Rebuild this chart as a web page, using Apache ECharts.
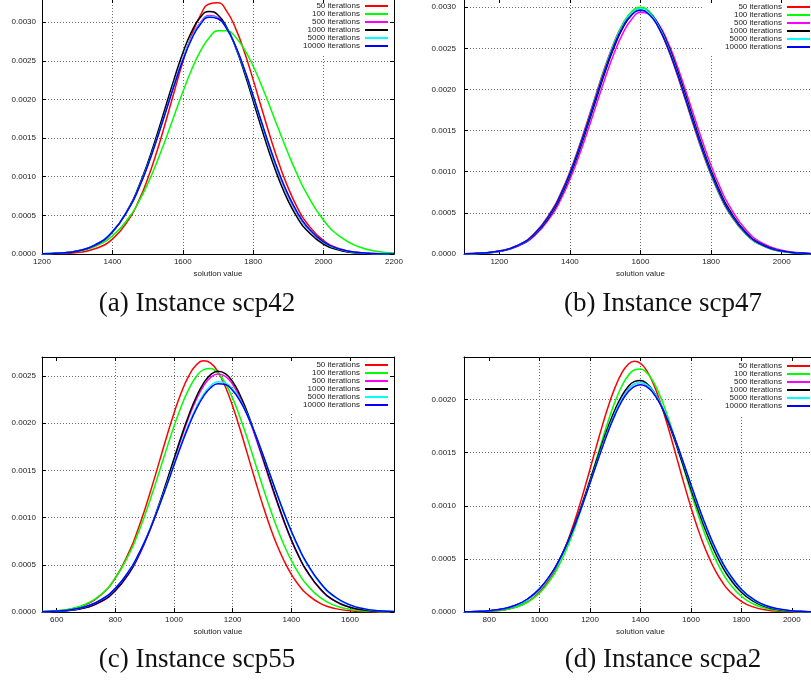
<!DOCTYPE html>
<html>
<head>
<meta charset="utf-8">
<script src="https://cdn.jsdelivr.net/npm/echarts@6/dist/echarts.min.js"></script>
<style>
html,body{margin:0;padding:0;background:#fff;}
#chart{width:811px;height:682px;}
</style>
</head>
<body>
<div id="chart"></div>
<script>
// ---------------- data ----------------
const seriesNames = ['50 iterations', '100 iterations', '500 iterations', '1000 iterations', '5000 iterations', '10000 iterations'];
const captions = ['(a) Instance scp42', '(b) Instance scp47', '(c) Instance scp55', '(d) Instance scpa2'];
const xAxisTitle = 'solution value';

const xTicksA = [1200, 1400, 1600, 1800, 2000, 2200];
const xTicksB = [1200, 1400, 1600, 1800, 2000];
const xTicksC = [600, 800, 1000, 1200, 1400, 1600];
const xTicksD = [800, 1000, 1200, 1400, 1600, 1800, 2000];

// (a) scp42
const xA = [1200,1250,1300,1350,1400,1450,1475,1500,1525,1550,1575,1600,1625,1650,1675,1700,1725,1750,1775,1800,1825,1850,1875,1900,1925,1950,2000,2050,2100,2150,2200];
const a50    = [0.0000010,0.0000049,0.0000197,0.0000671,0.000193,0.000471,0.000690,0.000970,0.001306,0.001688,0.002091,0.002483,0.002829,0.003089,0.003235,0.003250,0.003140,0.002920,0.002615,0.002253,0.001869,0.001492,0.001147,0.000849,0.000604,0.000414,0.000174,0.0000625,0.0000193,0.0000051,0.0000012];
const a100   = [0.0000033,0.0000116,0.0000359,0.0000976,0.000234,0.000491,0.000678,0.000906,0.001173,0.001470,0.001784,0.002096,0.002384,0.002625,0.002799,0.002889,0.002889,0.002806,0.002649,0.002430,0.002167,0.001877,0.001581,0.001294,0.001030,0.000796,0.000437,0.000214,0.0000933,0.0000363,0.0000126];
const a500   = [0.0000029,0.0000113,0.0000386,0.000113,0.000283,0.000613,0.000853,0.001142,0.001473,0.001831,0.002191,0.002525,0.002803,0.002996,0.003085,0.003060,0.002923,0.002689,0.002383,0.002034,0.001672,0.001323,0.001009,0.000741,0.000524,0.000357,0.000148,0.0000528,0.0000162,0.0000043,0.0000010];
const a1000  = [0.0000026,0.0000107,0.0000375,0.000112,0.000286,0.000627,0.000875,0.001176,0.001520,0.001890,0.002260,0.002600,0.002878,0.003065,0.003139,0.003093,0.002932,0.002674,0.002346,0.001980,0.001607,0.001255,0.000943,0.000681,0.000474,0.000317,0.000126,0.0000430,0.0000126,0.0000031,0.0000007];
const a5000  = [0.0000031,0.0000120,0.0000403,0.000116,0.000288,0.000618,0.000858,0.001144,0.001477,0.001829,0.002189,0.002518,0.002796,0.002985,0.003075,0.003050,0.002915,0.002682,0.002380,0.002033,0.001674,0.001328,0.001015,0.000748,0.000530,0.000363,0.000152,0.0000546,0.0000169,0.0000046,0.0000011];
const a10000 = [0.0000031,0.0000120,0.0000400,0.000115,0.000287,0.000616,0.000853,0.001140,0.001467,0.001819,0.002174,0.002504,0.002779,0.002973,0.003064,0.003044,0.002914,0.002688,0.002390,0.002048,0.001691,0.001345,0.001032,0.000762,0.000543,0.000372,0.000157,0.0000571,0.0000179,0.0000048,0.0000011];

// (b) scp47
const xB = [1100,1150,1200,1250,1300,1350,1375,1400,1425,1450,1475,1500,1525,1550,1575,1600,1625,1650,1675,1700,1725,1750,1775,1800,1825,1850,1900,1950,2000,2050,2100];
const b50    = [0.0000030,0.0000111,0.0000362,0.000102,0.000251,0.000538,0.000746,0.001000,0.001295,0.001619,0.001955,0.002281,0.002569,0.002795,0.002936,0.002980,0.002920,0.002764,0.002526,0.002231,0.001902,0.001566,0.001246,0.000957,0.000710,0.000508,0.000235,0.0000946,0.0000331,0.0000101,0.0000027];
const b100   = [0.0000026,0.0000098,0.0000326,0.0000941,0.000236,0.000513,0.000717,0.000968,0.001262,0.001588,0.001929,0.002261,0.002559,0.002795,0.002948,0.003000,0.002948,0.002795,0.002559,0.002261,0.001929,0.001588,0.001262,0.000968,0.000717,0.000513,0.000236,0.0000941,0.0000326,0.0000098,0.0000026];
const b500   = [0.0000026,0.0000097,0.0000316,0.0000897,0.000222,0.000480,0.000670,0.000905,0.001181,0.001490,0.001816,0.002140,0.002437,0.002683,0.002854,0.002935,0.002917,0.002802,0.002602,0.002335,0.002025,0.001698,0.001376,0.001077,0.000816,0.000597,0.000288,0.000122,0.0000448,0.0000144,0.0000040];
const b1000  = [0.0000027,0.0000102,0.0000334,0.0000949,0.000235,0.000506,0.000706,0.000951,0.001237,0.001555,0.001888,0.002215,0.002511,0.002748,0.002906,0.002969,0.002931,0.002794,0.002573,0.002290,0.001969,0.001634,0.001311,0.001016,0.000761,0.000550,0.000259,0.000107,0.0000381,0.0000119,0.0000032];
const b5000  = [0.0000028,0.0000106,0.0000346,0.0000983,0.000243,0.000523,0.000728,0.000978,0.001270,0.001593,0.001929,0.002256,0.002548,0.002780,0.002928,0.002980,0.002928,0.002780,0.002548,0.002256,0.001929,0.001593,0.001270,0.000978,0.000728,0.000523,0.000243,0.0000983,0.0000346,0.0000106,0.0000028];
const b10000 = [0.0000030,0.0000110,0.0000356,0.000100,0.000246,0.000526,0.000731,0.000980,0.001270,0.001589,0.001922,0.002245,0.002534,0.002762,0.002909,0.002960,0.002909,0.002762,0.002534,0.002245,0.001922,0.001589,0.001270,0.000980,0.000731,0.000526,0.000246,0.000100,0.0000356,0.0000110,0.0000030];

// (c) scp55
const xC = [550,600,650,700,750,800,850,875,900,925,950,975,1000,1025,1050,1075,1100,1125,1150,1175,1200,1225,1250,1275,1300,1325,1350,1375,1400,1425,1450,1500,1550,1600,1650,1700,1750];
const c50    = [0.0000035,0.0000109,0.0000308,0.0000778,0.000177,0.000360,0.000658,0.000855,0.001081,0.001330,0.001592,0.001856,0.002105,0.002324,0.002497,0.002612,0.002659,0.002635,0.002541,0.002385,0.002179,0.001938,0.001677,0.001413,0.001158,0.000924,0.000718,0.000543,0.000399,0.000286,0.000199,0.0000893,0.0000359,0.0000130,0.0000042,0.0000012,0.0000003];
const c100   = [0.0000047,0.0000137,0.0000358,0.0000850,0.000183,0.000358,0.000634,0.000814,0.001020,0.001246,0.001487,0.001730,0.001966,0.002179,0.002357,0.002488,0.002564,0.002578,0.002529,0.002421,0.002262,0.002063,0.001836,0.001594,0.001351,0.001117,0.000902,0.000710,0.000546,0.000409,0.000300,0.000149,0.0000674,0.0000276,0.0000102,0.0000035,0.0000011];
const c500   = [0.0000021,0.0000066,0.0000184,0.0000466,0.000107,0.000224,0.000424,0.000563,0.000729,0.000921,0.001136,0.001367,0.001605,0.001839,0.002057,0.002244,0.002390,0.002484,0.002520,0.002494,0.002409,0.002271,0.002089,0.001875,0.001643,0.001404,0.001172,0.000954,0.000758,0.000588,0.000445,0.000237,0.000114,0.0000500,0.0000198,0.0000071,0.0000023];
const c1000  = [0.0000021,0.0000067,0.0000186,0.0000472,0.000109,0.000227,0.000429,0.000570,0.000738,0.000932,0.001149,0.001383,0.001624,0.001861,0.002081,0.002271,0.002418,0.002514,0.002550,0.002524,0.002438,0.002298,0.002114,0.001897,0.001662,0.001421,0.001186,0.000965,0.000767,0.000595,0.000450,0.000240,0.000115,0.0000506,0.0000200,0.0000072,0.0000023];
const c5000  = [0.0000033,0.0000094,0.0000243,0.0000577,0.000125,0.000248,0.000450,0.000586,0.000747,0.000930,0.001132,0.001347,0.001568,0.001785,0.001987,0.002163,0.002302,0.002396,0.002438,0.002426,0.002360,0.002246,0.002089,0.001901,0.001691,0.001471,0.001251,0.001041,0.000846,0.000673,0.000524,0.000296,0.000153,0.0000723,0.0000313,0.0000123,0.0000045];
const c10000 = [0.0000035,0.0000097,0.0000250,0.0000589,0.000127,0.000250,0.000451,0.000586,0.000744,0.000925,0.001125,0.001337,0.001555,0.001769,0.001968,0.002142,0.002280,0.002374,0.002417,0.002408,0.002345,0.002235,0.002083,0.001899,0.001693,0.001477,0.001259,0.001051,0.000857,0.000684,0.000534,0.000305,0.000159,0.0000760,0.0000332,0.0000133,0.0000049];

// (d) scpa2
const xD = [700,750,800,850,900,950,1000,1050,1075,1100,1125,1150,1175,1200,1225,1250,1275,1300,1325,1350,1375,1400,1425,1450,1475,1500,1525,1550,1575,1600,1625,1650,1675,1700,1725,1750,1800,1850,1900,1950,2000,2050,2100];
const d50    = [0.0000007,0.0000022,0.0000063,0.0000169,0.0000412,0.0000919,0.000188,0.000351,0.000464,0.000600,0.000759,0.000940,0.001137,0.001346,0.001559,0.001766,0.001956,0.002119,0.002245,0.002327,0.002360,0.002340,0.002269,0.002153,0.001998,0.001813,0.001610,0.001397,0.001187,0.000986,0.000801,0.000636,0.000495,0.000376,0.000280,0.000203,0.000101,0.0000456,0.0000189,0.0000072,0.0000025,0.0000008,0.0000002];
const d100   = [0.0000008,0.0000025,0.0000069,0.0000176,0.0000414,0.0000896,0.000179,0.000328,0.000431,0.000555,0.000699,0.000864,0.001045,0.001238,0.001437,0.001634,0.001819,0.001985,0.002122,0.002221,0.002278,0.002288,0.002252,0.002170,0.002049,0.001895,0.001718,0.001524,0.001325,0.001128,0.000941,0.000769,0.000616,0.000483,0.000371,0.000279,0.000148,0.0000728,0.0000328,0.0000136,0.0000052,0.0000018,0.0000006];
const d500   = [0.0000018,0.0000048,0.0000118,0.0000273,0.0000585,0.000117,0.000216,0.000372,0.000475,0.000596,0.000733,0.000886,0.001051,0.001225,0.001402,0.001575,0.001738,0.001882,0.002003,0.002091,0.002145,0.002160,0.002135,0.002073,0.001976,0.001850,0.001700,0.001534,0.001360,0.001183,0.001011,0.000848,0.000699,0.000565,0.000449,0.000350,0.000201,0.000108,0.0000536,0.0000248,0.0000106,0.0000043,0.0000016];
const d1000  = [0.0000016,0.0000045,0.0000112,0.0000263,0.0000570,0.000115,0.000215,0.000373,0.000477,0.000600,0.000740,0.000896,0.001065,0.001243,0.001423,0.001600,0.001764,0.001911,0.002030,0.002118,0.002168,0.002179,0.002149,0.002080,0.001977,0.001843,0.001687,0.001516,0.001337,0.001157,0.000983,0.000819,0.000671,0.000539,0.000425,0.000329,0.000186,0.0000978,0.0000477,0.0000216,0.0000091,0.0000035,0.0000013];
const d5000  = [0.0000017,0.0000046,0.0000114,0.0000266,0.0000572,0.000115,0.000213,0.000368,0.000470,0.000591,0.000727,0.000880,0.001045,0.001219,0.001395,0.001570,0.001732,0.001878,0.001998,0.002088,0.002143,0.002160,0.002137,0.002076,0.001981,0.001855,0.001707,0.001540,0.001367,0.001190,0.001018,0.000855,0.000704,0.000571,0.000453,0.000354,0.000204,0.000110,0.0000547,0.0000254,0.0000109,0.0000044,0.0000017];
const d10000 = [0.0000020,0.0000052,0.0000127,0.0000288,0.0000608,0.000120,0.000220,0.000375,0.000477,0.000596,0.000731,0.000882,0.001044,0.001215,0.001388,0.001558,0.001718,0.001860,0.001979,0.002068,0.002122,0.002140,0.002119,0.002062,0.001970,0.001850,0.001705,0.001545,0.001374,0.001201,0.001031,0.000869,0.000720,0.000586,0.000468,0.000368,0.000215,0.000117,0.0000591,0.0000279,0.0000122,0.0000050,0.0000019];

// ---------------- layout / style ----------------
const seriesColors = ['#ff0000', '#00ff00', '#ff00ff', '#000000', '#00ffff', '#0000ff'];
const SANS = '"Liberation Sans", Arial, sans-serif';
const SERIF = '"Liberation Serif", "Times New Roman", serif';

const panels = [
  { xs: xA, ys: [a50, a100, a500, a1000, a5000, a10000], xMin: 1200, xMax: 2200, yMax: 0.0033, xTicks: xTicksA,
    grid: { left: 42, top: -1, width: 352, height: 255 },
    legend: { right: 418, top: 0, padding: [2, 5, 5, 21] }, yMargin: 6, cap: [197, 304] },
  { xs: xB, ys: [b50, b100, b500, b1000, b5000, b10000], xMin: 1100, xMax: 2100, yMax: 0.0031, xTicks: xTicksB,
    grid: { left: 464, top: -1, width: 353, height: 255 },
    legend: { right: 0, top: 0, padding: [3, 1, 5, 21] }, yMargin: 8, cap: [663, 304] },
  { xs: xC, ys: [c50, c100, c500, c1000, c5000, c10000], xMin: 550, xMax: 1750, yMax: 0.0027, xTicks: xTicksC,
    grid: { left: 42, top: 357, width: 352, height: 255 },
    legend: { right: 418, top: 357, padding: [4, 5, 5, 21] }, yMargin: 6, cap: [197, 660] },
  { xs: xD, ys: [d50, d100, d500, d1000, d5000, d10000], xMin: 700, xMax: 2100, yMax: 0.0024, xTicks: xTicksD,
    grid: { left: 464, top: 357, width: 353, height: 255 },
    legend: { right: 0, top: 357, padding: [5, 1, 5, 21] }, yMargin: 8, cap: [663, 660] }
];

const gridLine = { show: true, showMinLine: false, showMaxLine: false,
  lineStyle: { color: '#6a6a6a', width: 1, type: [1, 2] } };
const borderLine = { show: true, onZero: false, lineStyle: { color: '#000', width: 1 } };
const tickIn = { show: true, inside: true, length: 4, lineStyle: { color: '#000', width: 1 } };

const option = {
  animation: false,
  backgroundColor: '#fff',
  grid: [], xAxis: [], yAxis: [], series: [], legend: [], graphic: []
};

panels.forEach((p, i) => {
  option.grid.push(Object.assign({ show: false, containLabel: false, outerBoundsMode: 'none' }, p.grid));
  // bottom x axis
  option.xAxis.push({
    type: 'value', gridIndex: i, position: 'bottom', min: p.xMin, max: p.xMax,
    name: xAxisTitle, nameLocation: 'middle', nameGap: 16,
    nameTextStyle: { fontSize: 8, color: '#222', fontFamily: SANS },
    axisLine: borderLine,
    axisTick: Object.assign({ customValues: p.xTicks }, tickIn),
    axisLabel: { customValues: p.xTicks, fontSize: 8, color: '#222', fontFamily: SANS, margin: 4,
      showMinLabel: true, showMaxLabel: true, hideOverlap: false, formatter: v => String(v) },
    splitLine: gridLine
  });
  // left y axis
  option.yAxis.push({
    type: 'value', gridIndex: i, position: 'left', min: 0, max: p.yMax, interval: 0.0005,
    axisLine: borderLine, axisTick: tickIn,
    axisLabel: { fontSize: 8, color: '#222', fontFamily: SANS, margin: p.yMargin,
      showMaxLabel: false, formatter: v => v.toFixed(4) },
    splitLine: gridLine
  });
  // series
  p.ys.forEach((vals, k) => {
    option.series.push({
      name: seriesNames[k], type: 'line', xAxisIndex: i, yAxisIndex: i,
      data: p.xs.map((x, j) => [x, vals[j]]),
      smooth: true, symbol: 'none', showSymbol: false,
      lineStyle: { color: seriesColors[k], width: 1.5 },
      itemStyle: { color: seriesColors[k] },
      emphasis: { disabled: true }, silent: true, z: 2 + k * 0.01
    });
  });
  // legend
  option.legend.push(Object.assign({
    data: seriesNames, orient: 'vertical', align: 'right', icon: 'rect',
    itemWidth: 23, itemHeight: 2, itemGap: 0, selectedMode: false,
    backgroundColor: '#fff', z: 4,
    textStyle: { fontSize: 8, lineHeight: 8, color: '#222', fontFamily: SANS }
  }, p.legend));
  // caption
  option.graphic.push({
    type: 'text', x: p.cap[0], y: p.cap[1], silent: true,
    style: { text: captions[i], font: '27px ' + SERIF, fill: '#111', align: 'center', verticalAlign: 'middle' }
  });
});

// mirror axes (top / right) forming the rest of the border with inward ticks
panels.forEach((p, i) => {
  option.xAxis.push({
    type: 'value', gridIndex: i, position: 'top', min: p.xMin, max: p.xMax, z: 6,
    axisLine: borderLine, axisTick: Object.assign({ customValues: p.xTicks }, tickIn),
    axisLabel: { show: false }, splitLine: { show: false }
  });
  option.yAxis.push({
    type: 'value', gridIndex: i, position: 'right', min: 0, max: p.yMax, interval: 0.0005, z: 6,
    axisLine: borderLine, axisTick: tickIn,
    axisLabel: { show: false }, splitLine: { show: false }
  });
});

const chart = echarts.init(document.getElementById('chart'), null, { renderer: 'canvas' });
chart.setOption(option);
</script>
</body>
</html>
